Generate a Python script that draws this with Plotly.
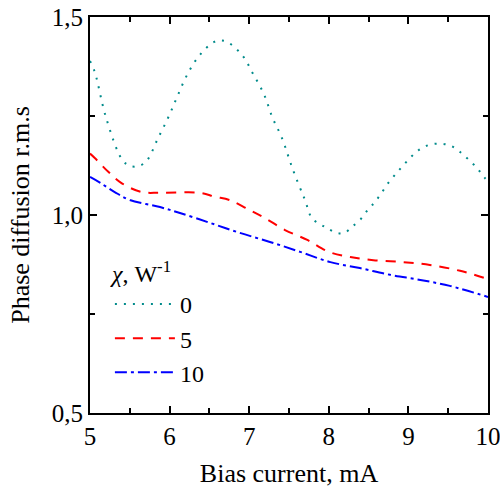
import plotly.graph_objects as go

# Data
x_chi0 = [5.00, 5.06, 5.20, 5.40, 5.50, 5.62, 5.72, 5.85, 5.98, 6.09, 6.21, 6.36, 6.56, 6.70,
          6.91, 7.05, 7.19, 7.29, 7.41, 7.55, 7.70, 7.79, 7.95, 8.10, 8.20, 8.29, 8.39, 8.49,
          8.58, 8.66, 8.74, 8.83, 8.93, 9.03, 9.13, 9.26, 9.41, 9.54, 9.65, 9.75, 9.86, 9.95, 10.0]
y_chi0 = [1.389, 1.361, 1.247, 1.141, 1.124, 1.124, 1.139, 1.192, 1.245, 1.296, 1.350, 1.399,
          1.437, 1.439, 1.404, 1.356, 1.303, 1.247, 1.195, 1.114, 1.038, 0.992, 0.970, 0.955,
          0.955, 0.970, 0.987, 1.013, 1.033, 1.055, 1.079, 1.101, 1.124, 1.146, 1.164, 1.177,
          1.180, 1.174, 1.159, 1.141, 1.119, 1.096, 1.085]

x_chi5 = [5.00, 5.06, 5.23, 5.40, 5.65, 5.88, 6.38, 6.57, 6.75, 7.00, 7.20, 7.45, 7.73, 8.00,
          8.27, 8.56, 8.93, 9.27, 9.65, 10.0]
y_chi5 = [1.155, 1.144, 1.109, 1.080, 1.058, 1.056, 1.056, 1.046, 1.038, 1.013, 0.992, 0.962,
          0.937, 0.907, 0.894, 0.886, 0.881, 0.874, 0.859, 0.838]

x_chi10 = [5.00, 5.13, 5.31, 5.50, 5.88, 6.13, 6.51, 6.88, 7.26, 7.64, 8.02, 8.39, 8.77, 9.15,
           9.52, 10.0]
y_chi10 = [1.096, 1.081, 1.058, 1.038, 1.020, 1.005, 0.980, 0.955, 0.932, 0.907, 0.881, 0.866,
           0.849, 0.836, 0.821, 0.793]

series_names = ["0", "5", "10"]
x_ticks = [5, 6, 7, 8, 9, 10]
y_ticks = [0.5, 1.0, 1.5]

FONT = "Liberation Serif, Times New Roman, serif"

fig = go.Figure()
fig.add_trace(go.Scatter(x=x_chi0, y=y_chi0, mode="lines", name=series_names[0],
                         line=dict(color="#008B8B", width=2, dash="2px,7px", shape="spline")))
fig.add_trace(go.Scatter(x=x_chi5, y=y_chi5, mode="lines", name=series_names[1],
                         line=dict(color="#FF0000", width=2, dash="10px,8px", shape="spline")))
fig.add_trace(go.Scatter(x=x_chi10, y=y_chi10, mode="lines", name=series_names[2],
                         line=dict(color="#0000FF", width=2, dash="12px,4px,3px,4px", shape="spline")))

axis_common = dict(
    showline=True, linecolor="black", linewidth=2, mirror="ticks",
    ticks="inside", ticklen=7, tickwidth=2, tickcolor="black",
    showgrid=False, zeroline=False, automargin=False, ticklabeloverflow="allow",
    tickfont=dict(family=FONT, size=25, color="black"),
    minor=dict(ticks="inside", ticklen=5, tickwidth=2, tickcolor="black", showgrid=False),
)

fig.update_xaxes(range=[5, 10], tickvals=x_ticks, ticktext=[str(v) for v in x_ticks],
                 minor_dtick=0.5,
                 title=dict(text="Bias current, mA", font=dict(family=FONT, size=26, color="black")),
                 **axis_common)
fig.update_yaxes(range=[0.5, 1.5], tickvals=y_ticks, tickformat=".1f",
                 minor_dtick=0.25,
                 title=dict(text="Phase diffusion r.m.s", font=dict(family=FONT, size=26, color="black")),
                 **axis_common)

fig.update_layout(
    width=500, height=489,
    margin=dict(l=90, r=12, t=17, b=76),
    paper_bgcolor="white", plot_bgcolor="white",
    separators=",.",
    showlegend=True,
    legend=dict(
        x=0.05, y=0.41, xanchor="left", yanchor="top",
        bgcolor="rgba(0,0,0,0)",
        font=dict(family=FONT, size=24, color="black"),
        title=dict(text="<i>χ</i>, W<sup>-1</sup>", font=dict(family=FONT, size=24, color="black")),
        itemwidth=60,
    ),
)

# remove the default 8px page margin so the 500x489 figure fills the window exactly
fig.write_html("out.html", config={"displayModeBar": False},
               post_script="document.body.style.margin='0px';document.body.style.overflow='hidden';")
